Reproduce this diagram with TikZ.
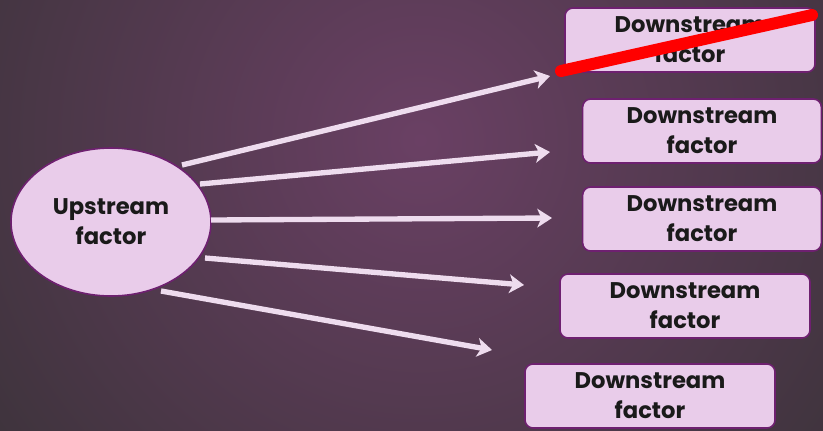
\documentclass[tikz,border=0pt]{standalone}
\usepackage{fontspec}
\setmainfont{Poppins}
\usetikzlibrary{arrows.meta,shapes.geometric}
\definecolor{bgdark}{HTML}{2A2E2A}
\definecolor{bgpurp}{HTML}{6A4064}
\definecolor{boxfill}{HTML}{E9CCEA}
\definecolor{boxedge}{HTML}{6E2070}
\definecolor{arrowcol}{HTML}{EEDCEE}
\definecolor{txt}{HTML}{1A1A1A}
\tikzset{
  factorbox/.style={draw=boxedge, line width=1.2pt, fill=boxfill, rounded corners=6pt,
    minimum width=187.5pt, minimum height=48pt, align=center, text=txt,
    font=\fontsize{17}{22.5}\selectfont\bfseries, inner sep=0pt},
  upnode/.style={ellipse, draw=boxedge, line width=1.2pt, fill=boxfill, minimum width=150pt,
    minimum height=111pt, align=center, text=txt, font=\fontsize{17}{22.5}\selectfont\bfseries, inner sep=0pt},
  flow/.style={draw=arrowcol, line width=4pt, -{Stealth[length=11pt, width=14pt, inset=3pt]}},
  strike/.style={draw=red, line width=9pt, line cap=round}
}
\begin{document}
\begin{tikzpicture}[x=0.75pt, y=-0.75pt]
\useasboundingbox (0,0) rectangle (823,430);
\begin{scope}
\clip (0,0) rectangle (823,430);
\fill[bgdark] (0,0) rectangle (823,430);
\shade[inner color=bgpurp, outer color=bgdark] (420,140) circle (760);
\end{scope}
\node[upnode] (up) at (111,222) {Upstream\\factor};
\node[factorbox] (d1) at (690,40) {Downstream\\factor};
\node[factorbox, minimum width=179pt] (d2) at (702,131) {Downstream\\factor};
\node[factorbox, minimum width=179pt] (d3) at (702,219) {Downstream\\factor};
\node[factorbox] (d4) at (685,306) {Downstream\\factor};
\node[factorbox] (d5) at (650,396) {Downstream\\factor};
\coordinate (s1) at (182,165);
\coordinate (s2) at (200,184);
\coordinate (s3) at (211,220);
\coordinate (s4) at (205,258);
\coordinate (s5) at (161,291);
\coordinate (e1) at (550,76);
\coordinate (e2) at (550,152);
\coordinate (e3) at (552,218);
\coordinate (e4) at (524,285);
\coordinate (e5) at (492,350);
\draw[flow] (s1) -- (e1);
\draw[flow] (s2) -- (e2);
\draw[flow] (s3) -- (e3);
\draw[flow] (s4) -- (e4);
\draw[flow] (s5) -- (e5);
\coordinate (r1) at (561,71);
\coordinate (r2) at (812,15);
\draw[strike] (r1) -- (r2);
\end{tikzpicture}
\end{document}
